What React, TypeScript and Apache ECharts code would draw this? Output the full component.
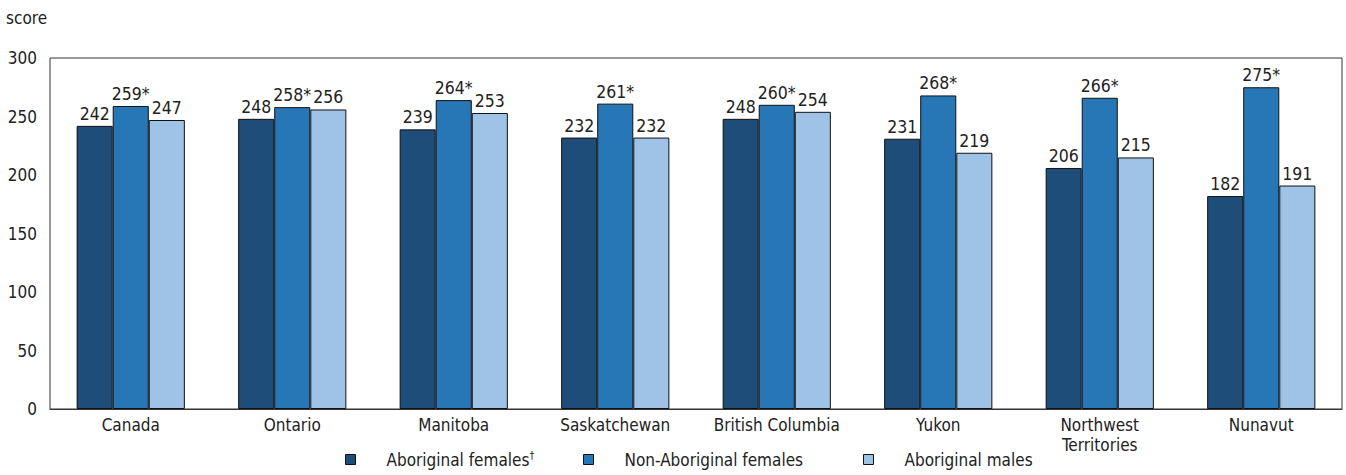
import React, { useEffect, useRef } from "react";
import * as echarts from "echarts";

const categories = ["Canada", "Ontario", "Manitoba", "Saskatchewan", "British Columbia", "Yukon", "Northwest\nTerritories", "Nunavut"];
const aboriginalFemales = [242, 248, 239, 232, 248, 231, 206, 182];
const nonAboriginalFemales = [259, 258, 264, 261, 260, 268, 266, 275];
const aboriginalMales = [247, 256, 253, 232, 254, 219, 215, 191];
const seriesNames = ["Aboriginal females", "Non-Aboriginal females", "Aboriginal males"];
const yTicks = [0, 50, 100, 150, 200, 250, 300];

const FONT = "'DejaVu Sans Condensed', sans-serif";

export default function App() {
  const ref = useRef<HTMLDivElement>(null);
  useEffect(() => {
    const chart = echarts.init(ref.current!, null, { renderer: "svg" });
    const label = (star: boolean) => ({
      show: true,
      position: "top",
      distance: 3,
      fontFamily: FONT,
      fontSize: 17.5,
      color: "#222",
      formatter: (p: any) => (star ? p.value + "*" : String(p.value)),
    });
    const legendLefts = [340, 578, 858];
    const legends = seriesNames.map((n, i) => ({
      bottom: 2,
      left: legendLefts[i],
      itemWidth: 10,
      itemHeight: 10,
      icon: "rect",
      itemStyle: { borderColor: "#111", borderWidth: 1 },
      textStyle: {
        fontFamily: FONT,
        fontSize: 17,
        color: "#222",
        padding: [0, 0, 0, 26],
        rich: { sup: { fontSize: 11, verticalAlign: "top", padding: [0, 0, 8, 0], fontFamily: FONT, color: "#222" } },
      },
      formatter: (name: string) => (name === "Aboriginal females" ? "Aboriginal females{sup|†}" : name),
      data: [n],
    }));
    chart.setOption({
      animation: false,
      textStyle: { fontFamily: FONT },
      grid: { left: 50, right: 4, top: 58, bottom: 66, show: true, borderColor: "#333", borderWidth: 1 },
      graphic: [
        { type: "text", left: 6, top: 9, style: { text: "score", fontFamily: FONT, fontSize: 17, fill: "#222" } },
      ],
      legend: legends,
      xAxis: {
        type: "category",
        data: categories,
        axisLine: { show: true, lineStyle: { color: "#333" } },
        axisTick: { show: false },
        axisLabel: { interval: 0, fontFamily: FONT, fontSize: 17, color: "#222", margin: 6, lineHeight: 20 },
      },
      yAxis: {
        type: "value",
        min: 0,
        max: 300,
        interval: 50,
        axisLine: { show: false },
        axisTick: { show: false },
        splitLine: { show: false },
        axisLabel: { fontFamily: FONT, fontSize: 17, color: "#222", margin: 13, customValues: yTicks },
      },
      series: [
        {
          name: seriesNames[0],
          type: "bar",
          data: aboriginalFemales,
          barGap: "0%",
          barCategoryGap: "33%",
          itemStyle: { color: "#1f4d7a", borderColor: "#111", borderWidth: 1 },
          label: label(false),
        },
        {
          name: seriesNames[1],
          type: "bar",
          data: nonAboriginalFemales,
          itemStyle: { color: "#2776b6", borderColor: "#111", borderWidth: 1 },
          label: label(true),
        },
        {
          name: seriesNames[2],
          type: "bar",
          data: aboriginalMales,
          itemStyle: { color: "#9fc3e6", borderColor: "#111", borderWidth: 1 },
          label: label(false),
        },
      ],
    });
    return () => chart.dispose();
  }, []);
  return <div ref={ref} style={{ width: 1346, height: 475, position: "absolute", left: 0, top: 0 }} />;
}
